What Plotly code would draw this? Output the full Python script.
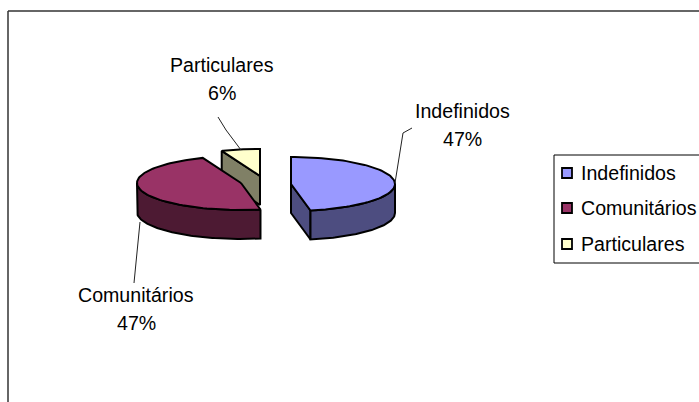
import numpy as np
import plotly.graph_objects as go

categories = ["Indefinidos", "Comunitários", "Particulares"]
values = [47, 47, 6]
percent_labels = ["47%", "47%", "6%"]
top_colors = ["#9999FF", "#993366", "#FFFFCC"]
side_colors = ["#4D4D80", "#4D1A33", "#808066"]

RX, RY, DEPTH = 104, 27, 29
centers = {"Indefinidos": (291, 184), "Comunitários": (241, 183), "Particulares": (260, 176)}
FONT = dict(family="Liberation Sans, Arial, sans-serif", size=19.6, color="black")

fracs = np.array(values) / sum(values)
ends = np.cumsum(fracs) * 2 * np.pi
starts = ends - fracs * 2 * np.pi


def pt(c, a, dz=0):
    return c[0] + RX * np.sin(a), c[1] - RY * np.cos(a) + dz


def arc(c, a0, a1, dz=0):
    t = np.linspace(a0, a1, 80)
    return c[0] + RX * np.sin(t), c[1] - RY * np.cos(t) + dz


fig = go.Figure()


def poly(xs, ys, color):
    fig.add_trace(go.Scatter(x=list(xs), y=list(ys), mode="lines", fill="toself", fillcolor=color,
                             line=dict(color="black", width=2), showlegend=False, hoverinfo="skip"))


def top(c, a0, a1, color):
    x, y = arc(c, a0, a1)
    poly(np.r_[c[0], x, c[0]], np.r_[c[1], y, c[1]], color)


def cut(c, a, color):
    x, y = pt(c, a)
    poly([c[0], x, x, c[0], c[0]], [c[1], y, y + DEPTH, c[1] + DEPTH, c[1]], color)


def outer(c, a0, a1, color):
    x, y = arc(c, a0, a1)
    poly(np.r_[x, x[::-1], x[0]], np.r_[y, y[::-1] + DEPTH, y[0]], color)


idx = {n: i for i, n in enumerate(categories)}
# Particulares (back)
i = idx["Particulares"]
c = centers["Particulares"]
cut(c, starts[i], side_colors[i])
top(c, starts[i], ends[i], top_colors[i])
# Comunitários
i = idx["Comunitários"]
c = centers["Comunitários"]
outer(c, starts[i], 1.5 * np.pi, side_colors[i])
top(c, starts[i], ends[i], top_colors[i])
# Indefinidos
i = idx["Indefinidos"]
c = centers["Indefinidos"]
cut(c, ends[i], side_colors[i])
outer(c, 0.5 * np.pi, ends[i], side_colors[i])
top(c, starts[i], ends[i], top_colors[i])

# Leader lines
leaders = {
    "Indefinidos": ([395, 403, 412], [183, 133, 128]),
    "Comunitários": ([140, 135, 134], [222, 270, 283]),
    "Particulares": ([241, 226, 218], [150, 130, 117]),
}
for n in categories:
    fig.add_trace(go.Scatter(x=leaders[n][0], y=leaders[n][1], mode="lines",
                             line=dict(color="#222", width=1), showlegend=False, hoverinfo="skip"))

# Labels: name and percentage on separately spaced lines
label_pos = {"Indefinidos": (462, 111), "Comunitários": (136, 295), "Particulares": (222, 65)}
LINE_GAP = 28
annotations = []
for n, p in zip(categories, percent_labels):
    lx, ly = label_pos[n]
    for txt, yy in ((n, ly), (p, ly + LINE_GAP)):
        annotations.append(dict(x=lx, y=yy, text=txt, showarrow=False, font=FONT, xref="x", yref="y"))

# Legend: swatches and text placed by hand to match the reference's tight spacing
LEG_X0, LEG_Y0, LEG_Y1 = 554, 155, 263
LEG_SWATCH_X, LEG_TEXT_X = 567, 581
LEG_ROWS = [173, 208, 244]
fig.add_trace(go.Scatter(x=[LEG_SWATCH_X] * 3, y=LEG_ROWS, mode="markers", showlegend=False, hoverinfo="skip",
                         marker=dict(symbol="square", size=10, color=top_colors,
                                     line=dict(color="black", width=1.8))))
for n, yy in zip(categories, LEG_ROWS):
    annotations.append(dict(x=LEG_TEXT_X, y=yy, text=n, showarrow=False, font=FONT, xanchor="left",
                            xref="x", yref="y", xshift=-2))

fig.update_layout(
    width=699, height=402, margin=dict(l=0, r=0, t=0, b=0, autoexpand=False),
    paper_bgcolor="white", plot_bgcolor="white", showlegend=False,
    xaxis=dict(range=[0, 699], visible=False, fixedrange=True),
    yaxis=dict(range=[402, 0], visible=False, fixedrange=True),
    annotations=annotations,
    shapes=[
        dict(type="line", xref="x", yref="y", x0=8, x1=8, y0=11, y1=402, line=dict(color="#333", width=1.5)),
        dict(type="line", xref="x", yref="y", x0=8, x1=699, y0=11, y1=11, line=dict(color="#333", width=1.5)),
        dict(type="rect", xref="x", yref="y", x0=LEG_X0, x1=705, y0=LEG_Y0, y1=LEG_Y1,
             line=dict(color="black", width=1), fillcolor="white", layer="below"),
    ],
)
fig.write_html("out.html", config=dict(displayModeBar=False),
               post_script="document.body.style.margin='0';")
